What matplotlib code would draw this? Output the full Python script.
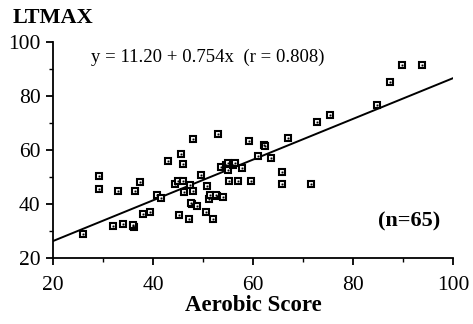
import numpy as np
import matplotlib.pyplot as plt
from matplotlib.ticker import MultipleLocator

# aerobic score vs LTMAX
aerobic = [25.9, 29.1, 29.1, 31.9, 32.9, 33.9, 35.9, 36.2, 36.0, 36.4,
           37.3, 37.9, 39.4, 40.8, 41.5, 42.9, 44.3, 44.9, 45.1, 45.5,
           45.9, 45.9, 46.2, 47.1, 47.4, 47.8, 47.6, 47.9, 47.9, 48.8,
           49.5, 50.6, 50.8, 51.1, 51.3, 51.9, 52.9, 52.7, 52.6, 53.5,
           53.9, 54.6, 55.0, 55.0, 55.2, 56.0, 56.4, 57.0, 57.8, 59.2,
           59.5, 60.9, 62.1, 62.4, 63.5, 65.7, 65.7, 66.9, 71.6, 72.8,
           75.3, 84.7, 87.4, 89.8, 93.7]
ltmax = [28.9, 50.4, 45.6, 32.0, 44.8, 32.5, 32.0, 31.4, 32.3, 44.8,
         48.3, 36.4, 36.9, 43.2, 42.1, 55.9, 47.3, 48.6, 35.8, 58.6,
         54.8, 48.6, 44.4, 34.3, 47.1, 39.9, 40.2, 64.1, 44.9, 39.4,
         50.9, 37.1, 46.6, 41.9, 43.3, 34.3, 65.8, 43.1, 43.5, 53.8,
         42.5, 54.3, 55.3, 52.7, 48.7, 54.6, 55.3, 48.7, 53.3, 63.4,
         48.7, 57.7, 62.0, 61.3, 56.9, 52.0, 47.4, 64.6, 47.4, 70.2,
         73.0, 76.7, 85.1, 91.6, 91.6]
intercept = 11.20
slope = 0.754

plt.rcParams['font.family'] = ['Liberation Serif', 'DejaVu Serif']

fig = plt.figure(figsize=(4.73, 3.24), dpi=100)
ax = fig.add_axes([53/473, 66/324, 400/473, 216/324])

x = np.array(aerobic)
y = np.array(ltmax)
ax.plot(x, y, 's', ms=5.0, mfc='white', mec='black', mew=1.5, zorder=3)
ax.plot(x, y, 's', ms=1.0, mfc='black', mec='black', mew=0.3, zorder=4)

xl = np.array([20, 100])
ax.plot(xl, intercept + slope * xl, color='black', lw=1.4, zorder=2)

ax.set_xlim(20, 100)
ax.set_ylim(20, 100)
ax.xaxis.set_major_locator(MultipleLocator(20))
ax.xaxis.set_minor_locator(MultipleLocator(10))
ax.yaxis.set_major_locator(MultipleLocator(20))
ax.yaxis.set_minor_locator(MultipleLocator(10))
ax.spines['top'].set_visible(False)
ax.spines['right'].set_visible(False)
ax.spines['left'].set_linewidth(1.3)
ax.spines['bottom'].set_linewidth(1.3)
ax.tick_params(which='major', length=5, width=1.3, labelsize=15.5)
ax.tick_params(axis='x', which='major', pad=8)
ax.tick_params(axis='y', which='major', pad=4)
ax.tick_params(which='minor', length=3, width=1.0)

ax.set_xlabel('Aerobic Score', fontsize=16.5, fontweight='bold', labelpad=0)
fig.text(13/473, 1 - 18/324, 'LTMAX', fontsize=16, fontweight='bold',
         va='center', ha='left')
ax.text(27.6, 94.5, 'y = 11.20 + 0.754x  (r = 0.808)', fontsize=13.5,
        va='center', ha='left')
ax.text(97.5, 33.5, '(n=65)', fontsize=16, fontweight='bold',
        va='center', ha='right')

fig.savefig('out.png', dpi=100)
